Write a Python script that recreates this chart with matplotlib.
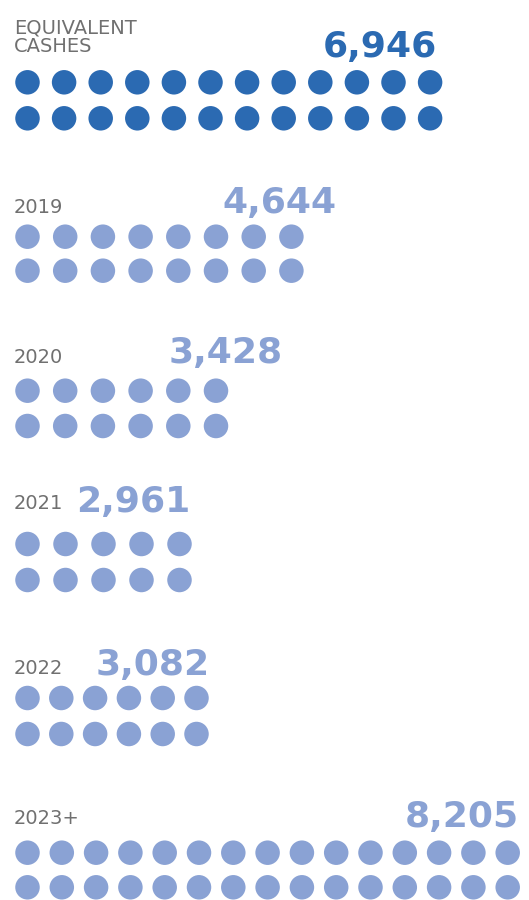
import matplotlib
matplotlib.use("Agg")
import matplotlib.pyplot as plt

# ---- data ----
categories = ["EQUIVALENT\nCASHES", "2019", "2020", "2021", "2022", "2023+"]
values = [6946, 4644, 3428, 2961, 3082, 8205]
dots_per_row = [12, 8, 6, 5, 6, 15]
rows_per_group = [2, 2, 2, 2, 2, 2]

# ---- layout (pixel space) ----
W, H = 529, 900
first_dot_x = 27.5
dot_spacing = [36.6, 37.7, 37.7, 38.0, 33.8, 34.3]
row1_y = [82.3, 236.7, 390.7, 544.0, 698.0, 852.7]
row_gap = [36.0, 34.0, 35.3, 36.0, 36.0, 34.6]
label_baseline = [52, 213, 363, 509, 674, 824]
value_baseline = [57, 213, 363, 512, 675, 827]
value_right = [437, 337, 283, 190, 210, 519]
dot_diam_px = 24.5

dark_blue = "#2B6AB2"
light_blue = "#8AA2D4"
gray = "#707070"
colors = [dark_blue] + [light_blue] * 5

fig = plt.figure(figsize=(W / 100, H / 100), dpi=100)
ax = fig.add_axes([0, 0, 1, 1])
ax.set_xlim(0, W)
ax.set_ylim(H, 0)
ax.axis("off")

s = (dot_diam_px * 72 / 100) ** 2

for i, cat in enumerate(categories):
    xs, ys = [], []
    for r in range(rows_per_group[i]):
        for k in range(dots_per_row[i]):
            xs.append(first_dot_x + k * dot_spacing[i])
            ys.append(row1_y[i] + r * row_gap[i])
    ax.scatter(xs, ys, s=s, color=colors[i], edgecolors="none", zorder=2)
    ax.text(14, label_baseline[i], cat, ha="left", va="baseline",
            fontsize=14, color=gray, family="DejaVu Sans", fontweight="normal",
            linespacing=1.0)
    ax.text(value_right[i], value_baseline[i], f"{values[i]:,}", ha="right",
            va="baseline", fontsize=26, color=colors[i], family="DejaVu Sans",
            fontweight="bold")

fig.savefig("out.png", dpi=100)
